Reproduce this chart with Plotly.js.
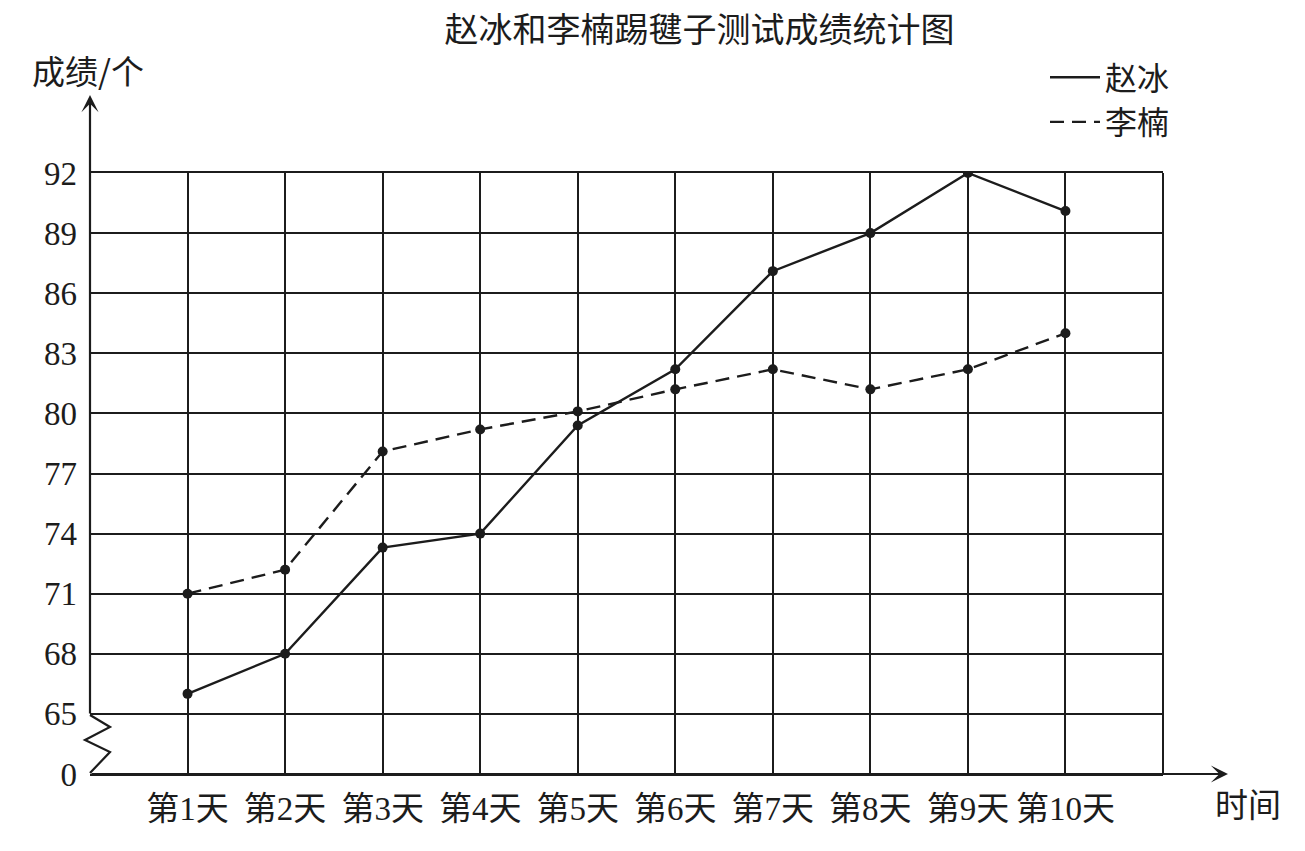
<!DOCTYPE html>
<html>
<head>
<meta charset="utf-8">
<script src="https://cdn.plot.ly/plotly-3.0.1.min.js"></script>
<style>
  body { margin: 0; background: #fff; }
  #myDiv { width: 1305px; height: 851px; }
</style>
</head>
<body>
<div id="myDiv"></div>
<script>
// datos
const dias = [1, 2, 3, 4, 5, 6, 7, 8, 9, 10];
const diasTexto = ['第1天', '第2天', '第3天', '第4天', '第5天', '第6天', '第7天', '第8天', '第9天', '第10天'];
const zhaoBing = [66, 68, 73.3, 74, 79.4, 82.2, 87.1, 89, 92, 90.1];
const liNan = [71, 72.2, 78.1, 79.2, 80.1, 81.2, 82.2, 81.2, 82.2, 84];
const yTicks = [62, 65, 68, 71, 74, 77, 80, 83, 86, 89, 92];
const yTickTexto = ['0', '65', '68', '71', '74', '77', '80', '83', '86', '89', '92'];

const negro = '#1c1c1c';
const fuenteCJK = '"Liberation Serif", "Noto Sans CJK SC", serif';

const zhao = {
  x: dias, y: zhaoBing, type: 'scatter', mode: 'lines', name: '赵冰',
  line: { color: negro, width: 2.4 }
};
const zhaoPuntos = {
  x: dias, y: zhaoBing, type: 'scatter', mode: 'markers', showlegend: false,
  marker: { color: negro, size: 10 }
};
const li = {
  x: dias, y: liNan, type: 'scatter', mode: 'lines', name: '李楠',
  line: { color: negro, width: 2.4, dash: '14px,8px' }
};
const liPuntos = {
  x: dias, y: liNan, type: 'scatter', mode: 'markers', showlegend: false,
  marker: { color: negro, size: 10 }
};

// pasar px a paper
const px2x = p => (p - 90) / 1073;
const px2y = p => (774 - p) / 601;

const zigzag = 'M' + px2x(90) + ',' + px2y(715) +
  ' L' + px2x(110) + ',' + px2y(727) +
  ' L' + px2x(85) + ',' + px2y(740) +
  ' L' + px2x(110) + ',' + px2y(752) +
  ' L' + px2x(90) + ',' + px2y(773);

var layout = {
  width: 1305,
  height: 851,
  margin: { l: 90, r: 142, t: 173, b: 77 },
  paper_bgcolor: '#fff',
  plot_bgcolor: '#fff',
  title: {
    text: '赵冰和李楠踢毽子测试成绩统计图',
    font: { family: '"Noto Sans CJK SC", sans-serif', size: 34, color: negro },
    xref: 'container', x: 0.536, xanchor: 'center',
    yref: 'container', y: 0.965, yanchor: 'middle'
  },
  xaxis: {
    range: [0, 11],
    tickvals: dias,
    ticktext: diasTexto,
    showgrid: true, gridcolor: negro, gridwidth: 2,
    zeroline: false, ticks: '',
    // borde de arriba (92) y de abajo
    showline: true, mirror: true, linecolor: negro, linewidth: 2,
    ticklabelstandoff: 4,
    tickfont: { family: fuenteCJK, size: 33, color: negro },
    fixedrange: true
  },
  yaxis: {
    range: [62, 92],
    tickvals: yTicks,
    ticktext: yTickTexto,
    showgrid: true, gridcolor: negro, gridwidth: 2,
    zeroline: false, showline: false, ticks: '',
    ticklabelstandoff: 12,
    tickfont: { family: fuenteCJK, size: 33, color: negro },
    fixedrange: true
  },
  showlegend: true,
  legend: {
    x: px2x(1045), y: px2y(50), xanchor: 'left', yanchor: 'top',
    itemwidth: 50,
    font: { family: '"Noto Sans CJK SC", sans-serif', size: 32, color: negro },
    bgcolor: 'rgba(0,0,0,0)'
  },
  shapes: [
    // borde derecho
    { type: 'line', xref: 'paper', yref: 'paper', x0: 1, x1: 1, y0: 0, y1: 1,
      line: { color: negro, width: 2 }, layer: 'above' },
    { type: 'path', xref: 'paper', yref: 'paper', path: zigzag,
      line: { color: negro, width: 2.2 }, layer: 'above' }
  ],
  annotations: [
    // eje y con flecha
    { xref: 'paper', yref: 'paper', x: 0, y: px2y(95), ax: 0, ay: 620, text: '',
      showarrow: true, arrowhead: 3, arrowsize: 1.3, arrowwidth: 2.2, arrowcolor: negro, standoff: 0 },
    // eje x con flecha
    { xref: 'paper', yref: 'paper', x: px2x(1228), y: 0, ax: -1138, ay: 0, text: '',
      showarrow: true, arrowhead: 3, arrowsize: 1.3, arrowwidth: 2.2, arrowcolor: negro, standoff: 0 },
    { xref: 'paper', yref: 'paper', x: px2x(30), y: px2y(70), xanchor: 'left', yanchor: 'middle',
      text: '成绩/个', showarrow: false,
      font: { family: '"Noto Sans CJK SC", sans-serif', size: 33, color: negro } },
    { xref: 'paper', yref: 'paper', x: px2x(1248), y: px2y(803), xanchor: 'center', yanchor: 'middle',
      text: '时间', showarrow: false,
      font: { family: '"Noto Sans CJK SC", sans-serif', size: 33, color: negro } }
  ]
};

Plotly.newPlot('myDiv', [zhao, li, zhaoPuntos, liPuntos], layout, { staticPlot: true });
</script>
</body>
</html>
